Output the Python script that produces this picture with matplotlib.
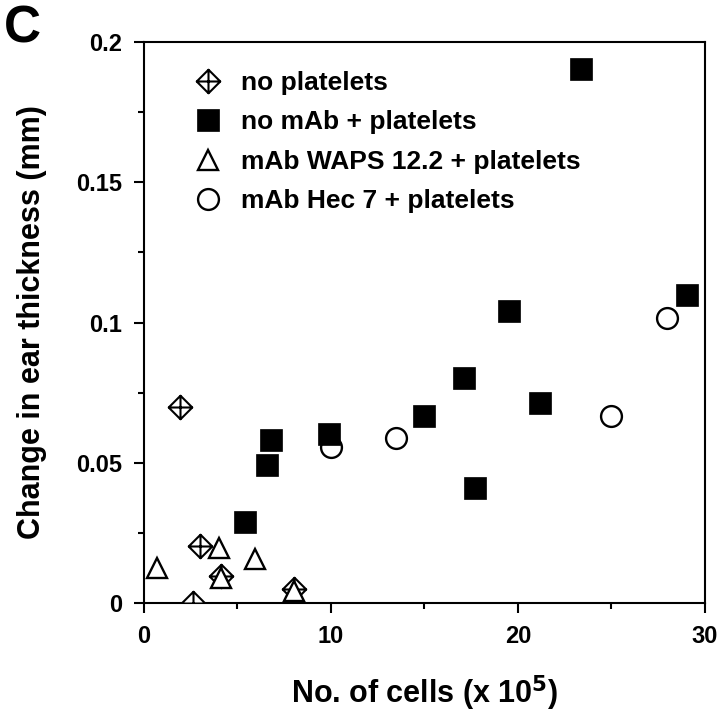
import numpy as np
import matplotlib
matplotlib.use('Agg')
import matplotlib.pyplot as plt
from matplotlib.path import Path

plt.rcParams['font.family'] = ['Liberation Sans', 'DejaVu Sans']
plt.rcParams['font.weight'] = 'bold'

# values (x in units of 10^5 cells, y in mm)
no_plt_x = [1.9, 3.0, 2.6, 4.1, 8.0]
no_plt_y = [0.070, 0.0203, 0.0, 0.0098, 0.005]

no_mab_x = [5.4, 6.6, 6.8, 9.9, 15.0, 17.1, 17.7, 19.5, 21.2, 23.4, 29.05]
no_mab_y = [0.0288, 0.0492, 0.0581, 0.0602, 0.0666, 0.0802, 0.0411, 0.1042, 0.0713, 0.1904, 0.1098]

waps_x = [0.7, 4.0, 4.1, 5.95, 8.0]
waps_y = [0.0124, 0.0197, 0.009, 0.0157, 0.0043]

hec_x = [10.0, 13.5, 25.0, 28.0]
hec_y = [0.0557, 0.059, 0.0666, 0.1015]

labels = ['no platelets', 'no mAb + platelets', 'mAb WAPS 12.2 + platelets', 'mAb Hec 7 + platelets']
x_ticks = [0, 10, 20, 30]
y_ticks = [0, 0.05, 0.1, 0.15, 0.2]
y_ticklabels = ['0', '0.05', '0.1', '0.15', '0.2']

# diamond with a cross inside
verts = [(0, 1), (1, 0), (0, -1), (-1, 0), (0, 1),
         (0, 1), (0, -1), (-1, 0), (1, 0)]
codes = [Path.MOVETO, Path.LINETO, Path.LINETO, Path.LINETO, Path.CLOSEPOLY,
         Path.MOVETO, Path.LINETO, Path.MOVETO, Path.LINETO]
cross_diamond = Path(verts, codes)

fig = plt.figure(figsize=(7.2, 7.12), dpi=100)
ax = fig.add_axes([0.2, 0.153, 0.779, 0.788])

h1, = ax.plot(no_plt_x, no_plt_y, linestyle='none', marker=cross_diamond, ms=17,
              mfc='white', mec='black', mew=1.5, zorder=3)
h4, = ax.plot(hec_x, hec_y, linestyle='none', marker='o', ms=15,
              mfc='white', mec='black', mew=1.7, zorder=4)
h2, = ax.plot(no_mab_x, no_mab_y, linestyle='none', marker='s', ms=15.5,
              mfc='black', mec='black', mew=0.5, zorder=5)
h3, = ax.plot(waps_x, waps_y, linestyle='none', marker='^', ms=15,
              mfc='white', mec='black', mew=1.7, zorder=6)

ax.set_xlim(0, 30)
ax.set_ylim(0, 0.2)
ax.set_xticks(x_ticks)
ax.set_xticklabels([str(t) for t in x_ticks])
ax.set_xticks([5, 15, 25], minor=True)
ax.set_yticks(y_ticks)
ax.set_yticklabels(y_ticklabels)
ax.set_yticks([0.025, 0.075, 0.125, 0.175], minor=True)

for s in ax.spines.values():
    s.set_linewidth(1.5)
ax.tick_params(which='major', direction='out', length=7.5, width=1.5, labelsize=17, pad=8)
ax.tick_params(which='minor', direction='out', length=4, width=1.5)

ax.set_xlabel('No. of cells (x 10$^\\mathbf{5}$)', fontsize=22, fontweight='bold', labelpad=19)
ax.set_ylabel('Change in ear thickness (mm)', fontsize=22, fontweight='bold', labelpad=21)

ax.legend([h1, h2, h3, h4], labels, loc='upper left', bbox_to_anchor=(0.09, 0.948),
          frameon=False, fontsize=19, handlelength=1.0, handletextpad=0.75,
          labelspacing=0.58, borderpad=0, borderaxespad=0, numpoints=1)

fig.text(0.006, 0.94, 'C', fontsize=37, fontweight='bold')

fig.savefig('out.png', dpi=100, facecolor='white')
